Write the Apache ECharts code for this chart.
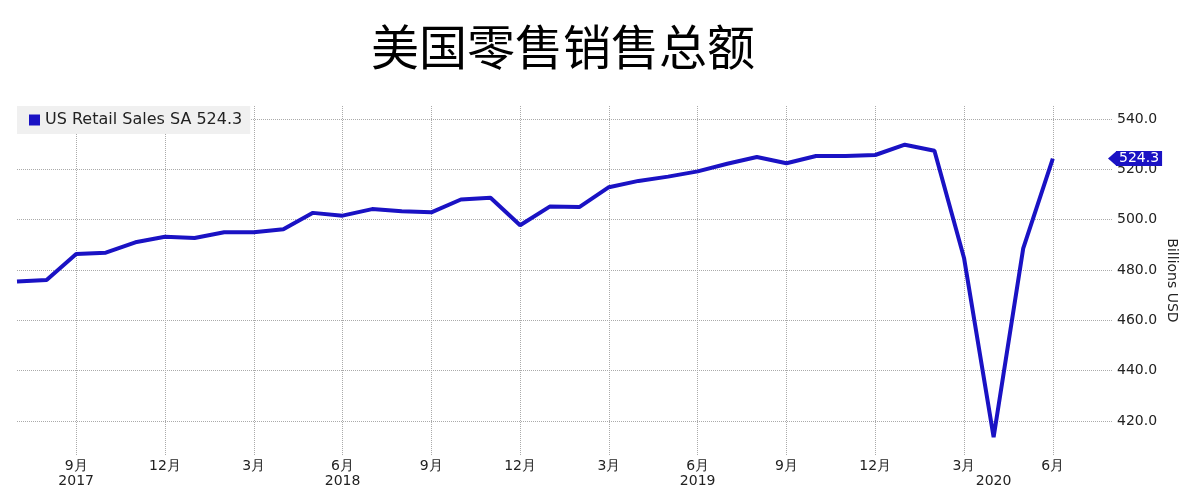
<!DOCTYPE html>
<html>
<head>
<meta charset="utf-8">
<script src="https://cdn.jsdelivr.net/npm/echarts@6/dist/echarts.min.js"></script>
<style>
  html, body { margin: 0; padding: 0; background: #fff; }
  #chart { width: 1185px; height: 487px; }
</style>
</head>
<body>
<div id="chart"></div>
<script>
// 月份（最后两个为空，只为留出右侧空白）
const categories = [
  '2017-07', '2017-08', '2017-09', '2017-10', '2017-11', '2017-12',
  '2018-01', '2018-02', '2018-03', '2018-04', '2018-05', '2018-06',
  '2018-07', '2018-08', '2018-09', '2018-10', '2018-11', '2018-12',
  '2019-01', '2019-02', '2019-03', '2019-04', '2019-05', '2019-06',
  '2019-07', '2019-08', '2019-09', '2019-10', '2019-11', '2019-12',
  '2020-01', '2020-02', '2020-03', '2020-04', '2020-05', '2020-06',
  '2020-07', '2020-08'
];
const salesValues = [
  475.4, 476.0, 486.4, 486.9, 491.0, 493.2,
  492.7, 495.0, 495.0, 496.2, 502.7, 501.6,
  504.2, 503.3, 502.9, 508.0, 508.7, 497.8,
  505.2, 505.0, 512.9, 515.4, 517.1, 519.2,
  522.2, 524.9, 522.4, 525.3, 525.3, 525.7,
  529.8, 527.4, 484.8, 413.6, 488.6, 524.3,
  null, null
];
const yearLabels = { '2017-09': '2017', '2018-06': '2018', '2019-06': '2019', '2020-04': '2020' };
const yTicks = { min: 420, max: 540, step: 20 };
const seriesName = 'US Retail Sales SA';
const lastValue = 524.3;

const lineColor = '#1a12c4';
const gridColor = '#aaa';
const font = 'DejaVu Sans';

function monthOf (val) {
  return parseInt(val.split('-')[1], 10);
}
function isQuarter (idx, val) {
  return monthOf(val) % 3 === 0;
}

const myChart = echarts.init(document.getElementById('chart'));
myChart.setOption({
  animation: false,
  title: {
    text: '美国零售销售总额',
    left: 366,
    top: 18,
    textStyle: {
      fontFamily: 'Noto Sans CJK SC',
      fontWeight: 'normal',
      fontSize: 48,
      color: '#000'
    }
  },
  legend: {
    left: 17,
    top: 106,
    icon: 'rect',
    itemWidth: 11,
    itemHeight: 11,
    itemGap: 4,
    padding: [6, 8, 6, 12],
    backgroundColor: '#f0f0f0',
    formatter: function (name) { return name + ' ' + lastValue.toFixed(1); },
    textStyle: { fontFamily: font, fontSize: 16, color: '#222' }
  },
  grid: [
    // 数据区（420-540）
    { left: 17, right: 73, top: 119, bottom: 66, outerBoundsMode: 'none' },
    // 竖网格线和x轴标签区
    { left: 17, right: 73, top: 106, bottom: 32, outerBoundsMode: 'none' }
  ],
  xAxis: [
    {
      gridIndex: 0,
      type: 'category',
      data: categories,
      boundaryGap: false,
      axisLine: { show: false },
      axisTick: { show: false },
      axisLabel: { show: false },
      splitLine: { show: false }
    },
    {
      gridIndex: 1,
      type: 'category',
      data: categories,
      boundaryGap: false,
      axisLine: { show: false },
      axisTick: { show: false },
      axisLabel: {
        interval: isQuarter,
        margin: 4,
        formatter: function (val) { return monthOf(val) + '月'; },
        fontFamily: font,
        fontSize: 14,
        color: '#222'
      },
      splitLine: {
        show: true,
        interval: isQuarter,
        lineStyle: { type: 'dotted', color: gridColor, width: 1 }
      }
    },
    {
      gridIndex: 1,
      type: 'category',
      data: categories,
      boundaryGap: false,
      position: 'bottom',
      offset: 15,
      axisLine: { show: false },
      axisTick: { show: false },
      axisLabel: {
        interval: function (idx, val) { return yearLabels[val] !== undefined; },
        margin: 4,
        formatter: function (val) { return yearLabels[val] || ''; },
        fontFamily: font,
        fontSize: 14,
        color: '#222'
      },
      splitLine: { show: false }
    }
  ],
  yAxis: [
    {
      gridIndex: 0,
      type: 'value',
      position: 'right',
      min: yTicks.min,
      max: yTicks.max,
      interval: yTicks.step,
      axisLine: { show: false },
      axisTick: { show: false },
      axisLabel: {
        margin: 5,
        formatter: function (v) { return v.toFixed(1); },
        fontFamily: font,
        fontSize: 14,
        color: '#222'
      },
      splitLine: { lineStyle: { type: 'dotted', color: gridColor, width: 1 } }
    },
    {
      gridIndex: 1,
      type: 'value',
      position: 'right',
      name: 'Billions USD',
      nameLocation: 'middle',
      nameRotate: -90,
      nameGap: 53,
      nameTextStyle: { fontFamily: font, fontSize: 14, color: '#222' },
      axisLine: { show: false },
      axisTick: { show: false },
      axisLabel: { show: false },
      splitLine: { show: false }
    }
  ],
  series: [{
    name: seriesName,
    type: 'line',
    xAxisIndex: 0,
    yAxisIndex: 0,
    data: salesValues,
    clip: false,
    symbol: 'none',
    lineStyle: { color: lineColor, width: 4 },
    itemStyle: { color: lineColor },
    markPoint: {
      silent: true,
      symbol: 'triangle',
      symbolRotate: 90,
      symbolSize: [14, 8],
      itemStyle: { color: lineColor },
      label: {
        show: true,
        position: 'right',
        distance: 0,
        formatter: lastValue.toFixed(1),
        backgroundColor: lineColor,
        padding: [1, 3, 0, 3],
        color: '#fff',
        fontFamily: font,
        fontSize: 14
      },
      data: [{ coord: [categories[categories.length - 1], lastValue] }]
    }
  }]
});
window.addEventListener('resize', function () {
  myChart.resize();
});
</script>
</body>
</html>
